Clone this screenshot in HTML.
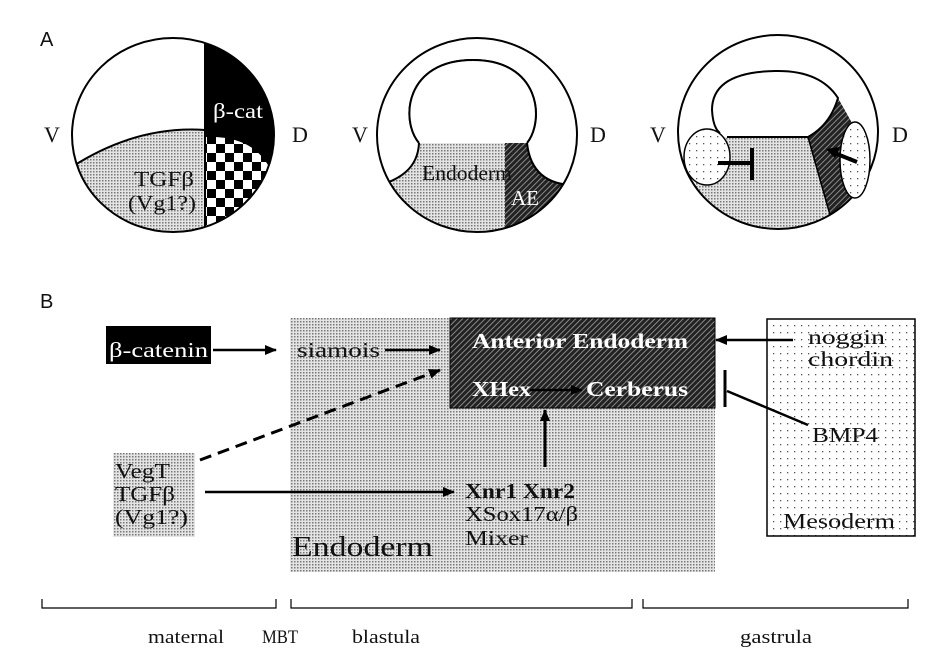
<!DOCTYPE html>
<html><head><meta charset="utf-8"><style>
html,body{margin:0;padding:0;background:#fff;}
svg{display:block;}
text{font-family:"Liberation Serif",serif;fill:#111;}
.s{font-family:"Liberation Sans",sans-serif;}
</style></head><body>
<svg width="949" height="664" viewBox="0 0 949 664" xmlns="http://www.w3.org/2000/svg">
<defs>
<pattern id="st" width="3" height="3" patternUnits="userSpaceOnUse"><rect width="3" height="3" fill="#e4e4e4"/><rect width="1.5" height="1.5" fill="#777"/></pattern>
<pattern id="sp" width="7" height="7" patternUnits="userSpaceOnUse"><rect width="7" height="7" fill="#fff"/><rect x="3" y="3" width="1.3" height="1.3" fill="#555"/></pattern>
<pattern id="ck" width="18" height="18" patternUnits="userSpaceOnUse"><rect width="18" height="18" fill="#fff"/><rect width="9" height="9" fill="#000"/><rect x="9" y="9" width="9" height="9" fill="#000"/></pattern>
<pattern id="ht" width="4" height="4" patternUnits="userSpaceOnUse" patternTransform="rotate(45)"><rect width="4" height="4" fill="#222"/><rect width="1" height="4" fill="#888"/></pattern>
<clipPath id="c1"><ellipse cx="173" cy="135" rx="101" ry="97"/></clipPath>
<clipPath id="c2"><ellipse cx="477" cy="135" rx="100" ry="97"/></clipPath>
<clipPath id="c3"><ellipse cx="778" cy="132" rx="100" ry="97"/></clipPath>
<marker id="ar" markerWidth="12" markerHeight="10" refX="11" refY="5" orient="auto" markerUnits="userSpaceOnUse"><path d="M0,0 L12,5 L0,10 Z" fill="#000"/></marker>
</defs>

<text class="s" x="40" y="46" font-size="20">A</text>
<text class="s" x="40" y="308" font-size="20">B</text>

<!-- Embryo 1 -->
<g clip-path="url(#c1)">
<rect x="205" y="30" width="80" height="210" fill="#000"/>
<path d="M60,175 Q130,125 205,130 L205,240 L60,240 Z" fill="url(#st)" stroke="#000" stroke-width="2"/>
<path d="M205,137 Q250,135 268,165 L280,240 L205,240 Z" fill="url(#ck)"/>
<line x1="205" y1="30" x2="205" y2="240" stroke="#000" stroke-width="2"/>
</g>
<ellipse cx="173" cy="135" rx="101" ry="97" fill="none" stroke="#000" stroke-width="2"/>
<text x="213" y="118" font-size="21" textLength="50" lengthAdjust="spacingAndGlyphs" style="fill:#fff">β-cat</text>
<text x="134" y="186" font-size="21" textLength="60" lengthAdjust="spacingAndGlyphs">TGFβ</text>
<text x="128" y="210" font-size="21" textLength="68" lengthAdjust="spacingAndGlyphs">(Vg1?)</text>
<text x="44" y="142" font-size="22">V</text>
<text x="292" y="142" font-size="22">D</text>

<!-- Embryo 2 -->
<g clip-path="url(#c2)">
<path d="M360,190 C405,182 418,165 419,143 L527,143 C530,170 545,185 575,185 L580,240 L360,240 Z" fill="url(#st)"/>
<path d="M505,143 L527,143 C530,170 545,185 575,185 L580,240 L505,240 Z" fill="url(#ht)"/>
<path d="M360,190 C405,182 418,165 419,143 C400,120 405,60 473,60 C540,60 545,120 527,143 C530,170 545,185 575,185" fill="none" stroke="#000" stroke-width="2"/>
</g>
<path d="M419,143 C400,120 405,60 473,60 C540,60 545,120 527,143" fill="#fff" stroke="#000" stroke-width="2"/>
<ellipse cx="477" cy="135" rx="100" ry="97" fill="none" stroke="#000" stroke-width="2"/>
<text x="422" y="180" font-size="21" textLength="90" lengthAdjust="spacingAndGlyphs">Endoderm</text>
<text x="511" y="205" font-size="21" style="fill:#fff">AE</text>
<text x="352" y="142" font-size="22">V</text>
<text x="590" y="142" font-size="22">D</text>

<!-- Embryo 3 -->
<g clip-path="url(#c3)">
<path d="M690,200 L712,137 L808,137 L832,225 L690,240 Z" fill="url(#st)"/>
<path d="M808,137 Q830,125 838,98 L856,130 L860,200 L832,222 Z" fill="url(#ht)"/>
<line x1="808" y1="137" x2="832" y2="222" stroke="#000" stroke-width="1.5"/>
</g>
<path d="M727,137 L808,137 Q830,125 838,98 Q820,70 775,71 Q712,72 712,110 Q713,128 720,133" fill="#fff" stroke="#000" stroke-width="2"/>
<ellipse cx="778" cy="132" rx="100" ry="97" fill="none" stroke="#000" stroke-width="2"/>
<ellipse cx="707" cy="157" rx="23" ry="28" fill="url(#sp)" stroke="#000" stroke-width="1.5"/>
<ellipse cx="855" cy="160" rx="15" ry="38" fill="url(#sp)" stroke="#000" stroke-width="1.5"/>
<line x1="718" y1="163" x2="752" y2="163" stroke="#000" stroke-width="4"/>
<line x1="752" y1="148" x2="752" y2="180" stroke="#000" stroke-width="4"/>
<line x1="857" y1="162" x2="832" y2="152" stroke="#000" stroke-width="4"/>
<path d="M826,149 L840,147 L835,158 Z" fill="#000"/>
<text x="650" y="142" font-size="22">V</text>
<text x="892" y="142" font-size="22">D</text>

<!-- Panel B -->
<rect x="290" y="318" width="425" height="254" fill="url(#st)"/>
<rect x="450" y="318" width="265" height="90" fill="url(#ht)" stroke="#000" stroke-width="1"/>
<rect x="767" y="319" width="148" height="217" fill="url(#sp)" stroke="#000" stroke-width="1.5"/>
<rect x="113" y="453" width="82" height="84" fill="url(#st)"/>
<rect x="106" y="326" width="105" height="38" fill="#000"/>

<text x="109" y="357" font-size="21" textLength="99" lengthAdjust="spacingAndGlyphs" style="fill:#fff">β-catenin</text>
<line x1="213" y1="350" x2="276" y2="350" stroke="#000" stroke-width="2.5" marker-end="url(#ar)"/>
<text x="297" y="357" font-size="21" textLength="83" lengthAdjust="spacingAndGlyphs">siamois</text>
<line x1="385" y1="350" x2="440" y2="350" stroke="#000" stroke-width="2.5" marker-end="url(#ar)"/>
<text x="472" y="348" font-size="21" font-weight="bold" textLength="216" lengthAdjust="spacingAndGlyphs" style="fill:#fff">Anterior Endoderm</text>
<text x="472" y="396" font-size="21" font-weight="bold" textLength="59" lengthAdjust="spacingAndGlyphs" style="fill:#fff">XHex</text>
<line x1="530" y1="390" x2="582" y2="390" stroke="#000" stroke-width="2.5" marker-end="url(#ar)"/>
<text x="586" y="396" font-size="21" font-weight="bold" textLength="102" lengthAdjust="spacingAndGlyphs" style="fill:#fff">Cerberus</text>
<line x1="200" y1="460" x2="440" y2="370" stroke="#000" stroke-width="3" stroke-dasharray="12,7" marker-end="url(#ar)"/>
<text x="115" y="478" font-size="21" textLength="55" lengthAdjust="spacingAndGlyphs">VegT</text>
<text x="115" y="501" font-size="21" textLength="60" lengthAdjust="spacingAndGlyphs">TGFβ</text>
<text x="115" y="524" font-size="21" textLength="73" lengthAdjust="spacingAndGlyphs">(Vg1?)</text>
<line x1="205" y1="492" x2="454" y2="492" stroke="#000" stroke-width="2.5" marker-end="url(#ar)"/>
<text x="465" y="498" font-size="21" font-weight="bold" textLength="110" lengthAdjust="spacingAndGlyphs">Xnr1 Xnr2</text>
<text x="465" y="521" font-size="21" textLength="113" lengthAdjust="spacingAndGlyphs">XSox17α/β</text>
<text x="465" y="545" font-size="21" textLength="63" lengthAdjust="spacingAndGlyphs">Mixer</text>
<line x1="545" y1="467" x2="545" y2="410" stroke="#000" stroke-width="3" marker-end="url(#ar)"/>
<text x="292" y="556" font-size="29" textLength="141" lengthAdjust="spacingAndGlyphs">Endoderm</text>
<text x="808" y="344" font-size="21" textLength="77" lengthAdjust="spacingAndGlyphs">noggin</text>
<text x="808" y="366" font-size="21" textLength="85" lengthAdjust="spacingAndGlyphs">chordin</text>
<line x1="793" y1="340" x2="716" y2="340" stroke="#000" stroke-width="2.5" marker-end="url(#ar)"/>
<line x1="725" y1="370" x2="725" y2="407" stroke="#000" stroke-width="3"/>
<line x1="727" y1="391" x2="808" y2="425" stroke="#000" stroke-width="2.5"/>
<text x="812" y="442" font-size="21" textLength="66" lengthAdjust="spacingAndGlyphs">BMP4</text>
<text x="783" y="528" font-size="21" textLength="112" lengthAdjust="spacingAndGlyphs">Mesoderm</text>

<!-- Timeline -->
<g stroke="#000" stroke-width="1.2" fill="none">
<path d="M42,599 V608 H276 V599"/>
<path d="M291,599 V608 H632 V599"/>
<path d="M643,599 V608 H908 V599"/>
</g>
<text x="148" y="643" font-size="19" textLength="76" lengthAdjust="spacingAndGlyphs">maternal</text>
<text x="262" y="643" font-size="19" textLength="36" lengthAdjust="spacingAndGlyphs">MBT</text>
<text x="352" y="643" font-size="19" textLength="68" lengthAdjust="spacingAndGlyphs">blastula</text>
<text x="740" y="643" font-size="19" textLength="72" lengthAdjust="spacingAndGlyphs">gastrula</text>
</svg>
</body></html>
